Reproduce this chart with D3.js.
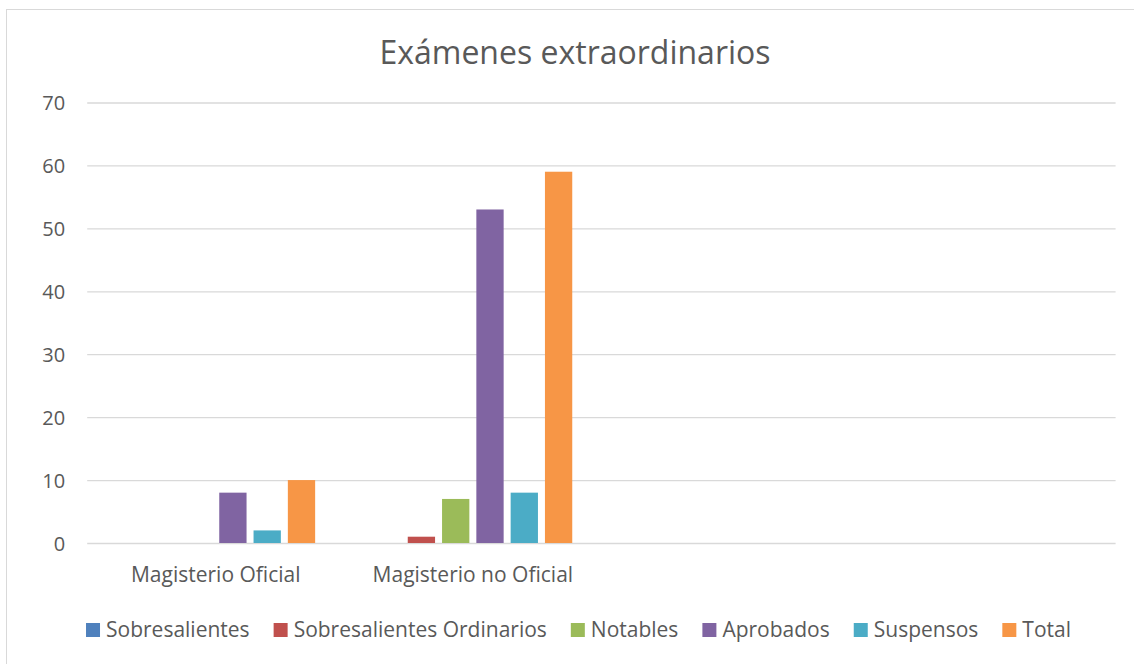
<!DOCTYPE html>
<html><head><meta charset="utf-8">
<script src="https://cdn.jsdelivr.net/npm/d3@7"></script>
<style>body{margin:0;background:#fff;} svg{display:block;}</style>
</head><body>
<svg id="c" width="1134" height="664"></svg>
<script>
const categories = ["Magisterio Oficial", "Magisterio no Oficial", "", " "];
const seriesNames = ["Sobresalientes", "Sobresalientes Ordinarios", "Notables", "Aprobados", "Suspensos", "Total"];
const sobresalientes = [0, 0, null, null];
const sobresalientesOrdinarios = [0, 1, null, null];
const notables = [0, 7, null, null];
const aprobados = [8, 53, null, null];
const suspensos = [2, 8, null, null];
const total = [10, 59, null, null];
const colors = ["#4F81BD", "#C0504D", "#9BBB59", "#8064A2", "#4BACC6", "#F79646"];
const yTicks = [0, 10, 20, 30, 40, 50, 60, 70];
const title = "Exámenes extraordinarios";

const seriesValues = [sobresalientes, sobresalientesOrdinarios, notables, aprobados, suspensos, total];
const FONT = "'Open Sans', sans-serif";
const txt = "#595959";

const svg = d3.select("#c");
svg.append("rect").attr("x", 6.5).attr("y", 9.5).attr("width", 1140).attr("height", 660)
  .attr("fill", "#fff").attr("stroke", "#d9d9d9").attr("stroke-width", 1);

const x0 = d3.scaleBand().domain(categories).range([87.2, 1115.6]).paddingInner(0).paddingOuter(0);
const x1 = d3.scaleBand().domain(seriesNames).range([0, x0.bandwidth()]).paddingInner(0.204).paddingOuter(0.85);
const y = d3.scaleLinear().domain([0, 70]).range([543, 102.5]);

// gridlines
const yAxis = d3.axisLeft(y).tickValues(yTicks).tickSize(-(1115.6 - 87.2)).tickPadding(22).tickFormat(d3.format("d"));
const gy = svg.append("g").attr("transform", "translate(87.2,0)").call(yAxis);
gy.select(".domain").remove();
gy.selectAll(".tick line").attr("stroke", "#d9d9d9").attr("stroke-width", 1.3);
gy.selectAll(".tick text").attr("fill", txt).style("font-family", FONT).style("font-size", "20px").attr("dy", "0.35em");

// bars
const groups = svg.append("g").selectAll("g").data(seriesNames).join("g").attr("fill", (d, i) => colors[i]);
groups.selectAll("rect").data((s, i) => seriesValues[i].map((v, j) => ({cat: categories[j], v, s})).filter(d => d.v !== null && d.v > 0))
  .join("rect")
  .attr("x", d => x0(d.cat) + x1(d.s))
  .attr("width", x1.bandwidth())
  .attr("y", d => y(d.v))
  .attr("height", d => y(0) - y(d.v));

// x labels
const xAxis = d3.axisBottom(x0).tickSize(0).tickPadding(24);
const gx = svg.append("g").attr("transform", "translate(0,543)").call(xAxis);
gx.select(".domain").remove();
gx.selectAll(".tick text").attr("fill", txt).style("font-family", FONT).style("font-size", "21px");

// title
svg.append("text").attr("x", 575).attr("y", 64).attr("text-anchor", "middle").attr("fill", txt)
  .style("font-family", FONT).style("font-size", "32px").text(title);

// legend
const lg = svg.append("g");
let cx = 0;
const GAP = 24;
seriesNames.forEach((n, i) => {
  const g = lg.append("g");
  g.append("rect").attr("x", 0).attr("y", -7).attr("width", 14).attr("height", 14).attr("fill", colors[i]);
  const t = g.append("text").attr("x", 20).attr("y", 0).attr("dy", "0.35em").attr("fill", txt)
    .style("font-family", FONT).style("font-size", "21px").text(n);
  const w = 20 + t.node().getComputedTextLength();
  g.attr("transform", `translate(${cx},630)`);
  cx += w + GAP;
});
const lw = cx - GAP;
lg.attr("transform", `translate(${578.5 - lw / 2},0)`);
</script>
</body></html>
